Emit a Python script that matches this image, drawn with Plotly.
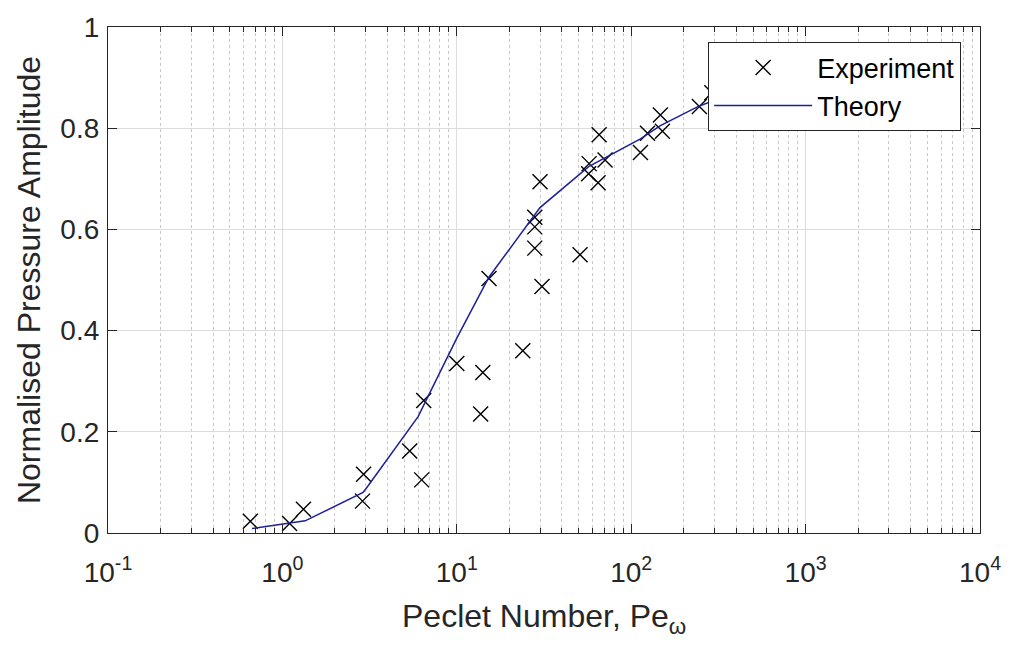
import plotly.graph_objects as go

# Measured pressure amplitude vs Peclet number
exp_pe = [0.655, 1.10, 1.32, 2.92, 2.88, 5.37, 6.29, 6.46, 10.0, 14.1, 13.7, 15.3,
          23.9, 28.0, 28.0, 28.0, 30.0, 30.8, 50.9, 57.4, 57.0, 64.6, 65.5, 70.8,
          113, 124, 147, 151, 246, 290]
exp_amp = [0.023, 0.019, 0.047, 0.116, 0.063, 0.162, 0.105, 0.262, 0.335, 0.317, 0.235, 0.503,
           0.360, 0.563, 0.605, 0.624, 0.694, 0.487, 0.550, 0.730, 0.710, 0.692, 0.787, 0.737,
           0.752, 0.790, 0.826, 0.794, 0.843, 0.870]

# Model prediction
th_pe = [0.67, 1.0, 1.35, 2.9, 3.05, 6.0, 10.0, 15.3, 30.0, 57.0, 113, 147, 246, 300]
th_amp = [0.009, 0.018, 0.024, 0.080, 0.090, 0.230, 0.385, 0.506, 0.643, 0.724, 0.779, 0.805, 0.844, 0.855]

x_tick_vals = [0.1, 1, 10, 100, 1000, 10000]
x_tick_text = ["10<sup>-1</sup>", "10<sup>0</sup>", "10<sup>1</sup>", "10<sup>2</sup>",
               "10<sup>3</sup>", "10<sup>4</sup>"]
y_tick_vals = [0, 0.2, 0.4, 0.6, 0.8, 1]
y_tick_text = ["0", "0.2", "0.4", "0.6", "0.8", "1"]

# log-axis minor ticks at 2..9 within each decade
x_minor_vals = [m * 10.0 ** e for e in range(-1, 4) for m in range(2, 10)]

FONT = "Liberation Sans, Arial, sans-serif"
AXC = "#262626"

fig = go.Figure()
fig.add_trace(go.Scatter(
    x=exp_pe, y=exp_amp, mode="markers", name="Experiment",
    marker=dict(symbol="x-thin-open", size=15, color="black",
                line=dict(color="black", width=1.4)),
))
fig.add_trace(go.Scatter(
    x=th_pe, y=th_amp, mode="lines", name="Theory",
    line=dict(color="#1e1e9c", width=1.5),
))

fig.update_layout(
    width=1019, height=648,
    margin=dict(l=108, r=39, t=20, b=115),
    paper_bgcolor="white", plot_bgcolor="white",
    font=dict(family=FONT, size=28, color=AXC),
    showlegend=True,
    legend=dict(
        x=0.688, y=0.97, xanchor="left", yanchor="top",
        bgcolor="white", bordercolor=AXC, borderwidth=1.2,
        font=dict(family=FONT, size=27, color="black"),
        itemwidth=98, tracegroupgap=0,
    ),
)

# x-axis title placed beneath the tick labels
fig.add_annotation(
    text="Peclet Number, Pe<sub>ω</sub>",
    xref="paper", yref="paper", x=0.5, y=-0.124, xanchor="center", yanchor="top",
    showarrow=False, font=dict(family=FONT, size=32, color=AXC),
)

fig.update_xaxes(
    type="log", range=[-1, 4],
    tickvals=x_tick_vals, ticktext=x_tick_text,
    ticks="inside", ticklen=9, tickcolor=AXC, tickwidth=1,
    ticklabelstandoff=14,
    showline=True, linecolor=AXC, linewidth=1.2, mirror="ticks",
    showgrid=True, gridcolor="#dcdcdc", gridwidth=1,
    minor=dict(tickvals=x_minor_vals, ticks="inside", ticklen=5, tickcolor=AXC,
               showgrid=True, gridcolor="#c8c8c8", griddash="dot", gridwidth=1),
    tickfont=dict(family=FONT, size=28, color=AXC),
    zeroline=False,
)
fig.update_yaxes(
    range=[0, 1],
    tickvals=y_tick_vals, ticktext=y_tick_text,
    ticks="inside", ticklen=9, tickcolor=AXC, tickwidth=1,
    ticklabelstandoff=2,
    showline=True, linecolor=AXC, linewidth=1.2, mirror="ticks",
    showgrid=True, gridcolor="#dcdcdc", gridwidth=1,
    tickfont=dict(family=FONT, size=28, color=AXC),
    title=dict(text="Normalised Pressure Amplitude", font=dict(family=FONT, size=32, color=AXC),
               standoff=10),
    zeroline=False,
)

fig.write_html("out.html")
